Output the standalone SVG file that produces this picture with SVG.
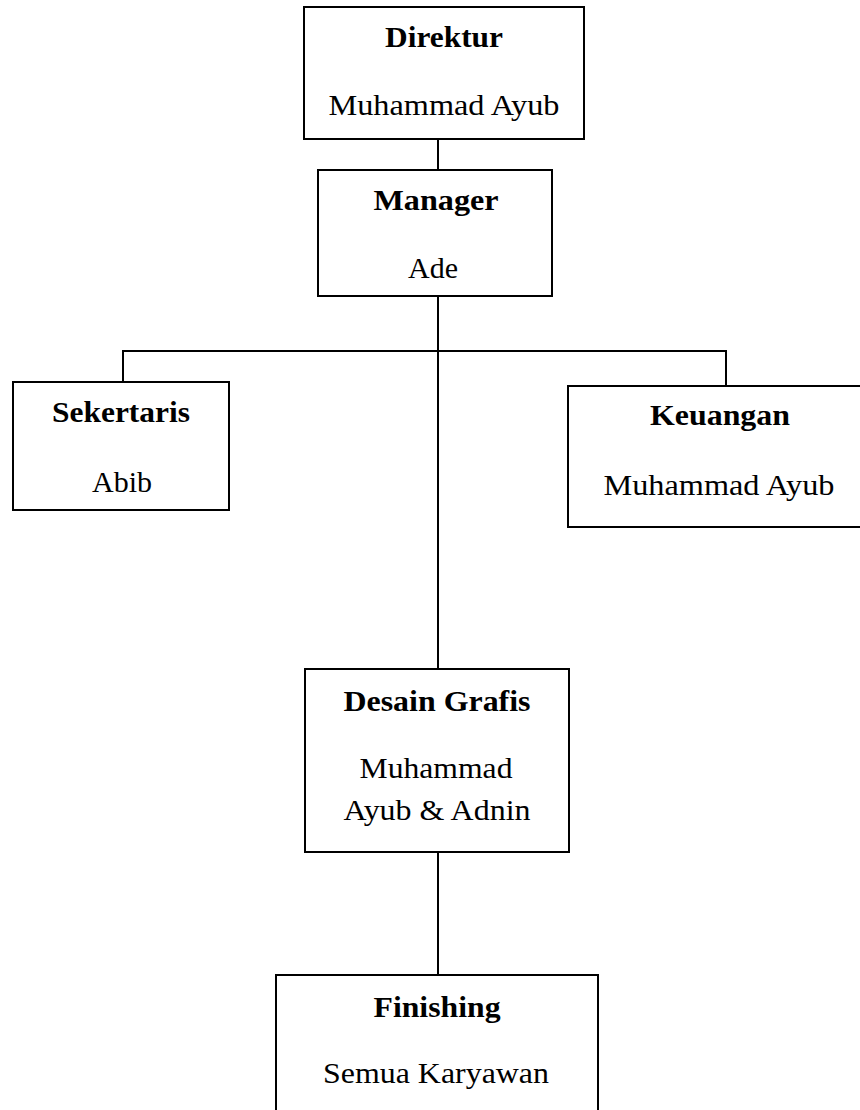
<svg xmlns="http://www.w3.org/2000/svg" width="860" height="1110" viewBox="0 0 860 1110">
  <style>
    .box { fill: #ffffff; stroke: #000000; stroke-width: 2; }
    .link { fill: none; stroke: #000000; stroke-width: 2; }
    .title { font-family: 'Liberation Serif', serif; font-size: 29px; font-weight: bold; fill: #000000; text-anchor: middle; }
    .name { font-family: 'Liberation Serif', serif; font-size: 29px; fill: #000000; text-anchor: middle; }
  </style>
  <rect x="0" y="0" width="860" height="1110" fill="#ffffff"/>

  <!-- connectors -->
  <g id="connectors">
    <line class="link" x1="438" y1="139" x2="438" y2="170"/>
    <line class="link" x1="438" y1="296" x2="438" y2="669"/>
    <polyline class="link" points="123,382 123,351 726,351 726,386"/>
    <line class="link" x1="438" y1="852" x2="438" y2="975"/>
  </g>

  <g id="direktur">
    <rect class="box" x="304" y="7" width="280" height="132"/>
    <text class="title" x="444" y="47" textLength="118" lengthAdjust="spacingAndGlyphs">Direktur</text>
    <text class="name" x="444" y="115" textLength="231" lengthAdjust="spacingAndGlyphs">Muhammad Ayub</text>
  </g>

  <g id="manager">
    <rect class="box" x="318" y="170" width="234" height="126"/>
    <text class="title" x="436" y="210" textLength="125" lengthAdjust="spacingAndGlyphs">Manager</text>
    <text class="name" x="433" y="278" textLength="50" lengthAdjust="spacingAndGlyphs">Ade</text>
  </g>

  <g id="sekertaris">
    <rect class="box" x="13" y="382" width="216" height="128"/>
    <text class="title" x="121" y="422" textLength="138" lengthAdjust="spacingAndGlyphs">Sekertaris</text>
    <text class="name" x="122" y="492" textLength="60" lengthAdjust="spacingAndGlyphs">Abib</text>
  </g>

  <g id="keuangan">
    <rect class="box" x="568" y="386" width="296" height="141"/>
    <text class="title" x="720" y="425" textLength="140" lengthAdjust="spacingAndGlyphs">Keuangan</text>
    <text class="name" x="719" y="495" textLength="231" lengthAdjust="spacingAndGlyphs">Muhammad Ayub</text>
  </g>

  <g id="desain-grafis">
    <rect class="box" x="305" y="669" width="264" height="183"/>
    <text class="title" x="437" y="711" textLength="187" lengthAdjust="spacingAndGlyphs">Desain Grafis</text>
    <text class="name" x="436" y="778" textLength="153" lengthAdjust="spacingAndGlyphs">Muhammad</text>
    <text class="name" x="437" y="820" textLength="187" lengthAdjust="spacingAndGlyphs">Ayub &amp; Adnin</text>
  </g>

  <g id="finishing">
    <rect class="box" x="276" y="975" width="322" height="150"/>
    <text class="title" x="437" y="1017" textLength="127" lengthAdjust="spacingAndGlyphs">Finishing</text>
    <text class="name" x="436" y="1083" textLength="226" lengthAdjust="spacingAndGlyphs">Semua Karyawan</text>
  </g>
</svg>
